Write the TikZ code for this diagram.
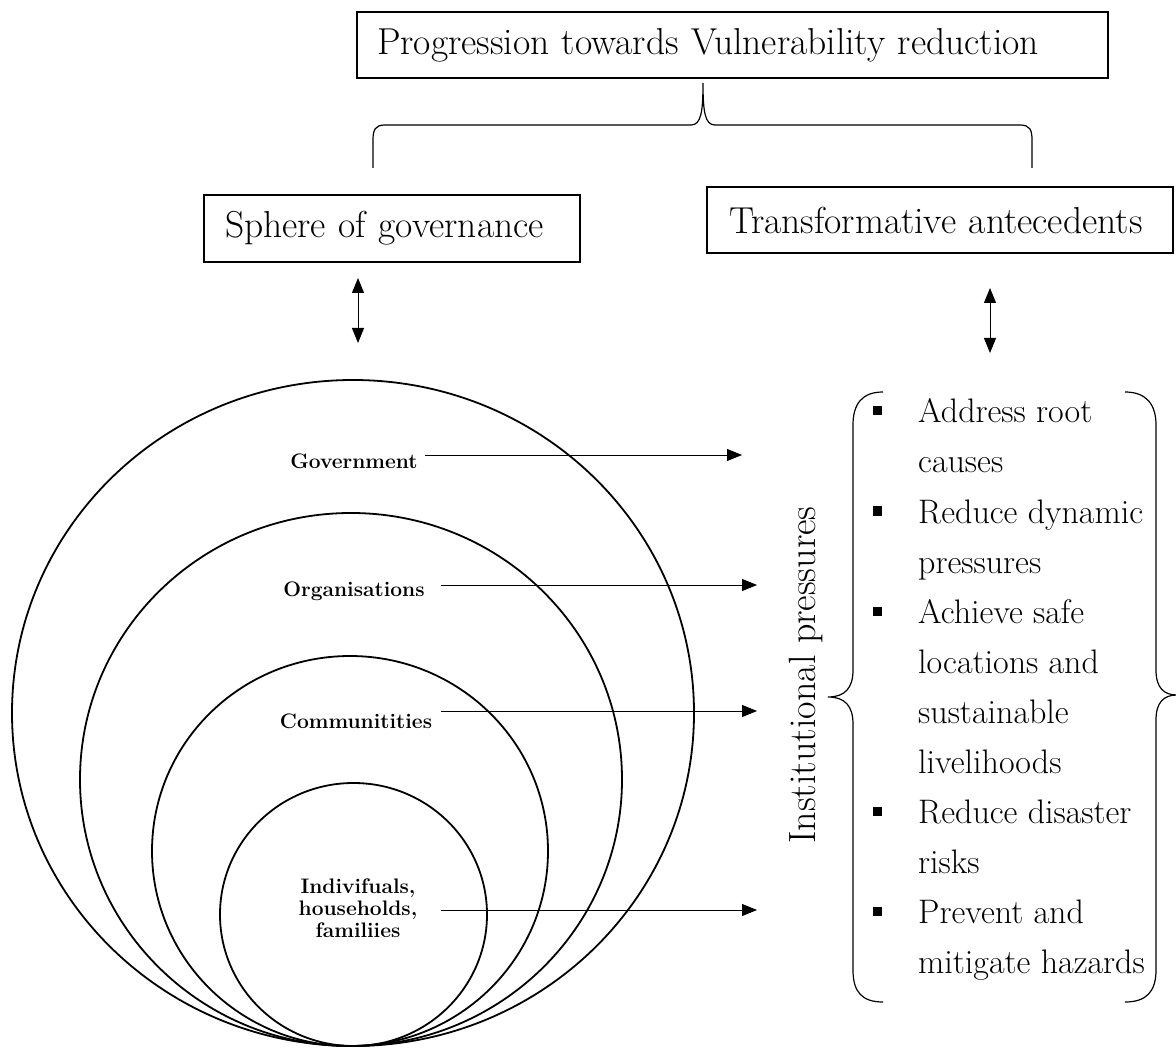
\documentclass[tikz,border=0pt]{standalone}
\usetikzlibrary{arrows.meta,shapes.geometric}
\begin{document}
\begin{tikzpicture}[x=1pt,y=-1pt,
  heading/.style={draw, line width=1.1pt, rectangle, inner ysep=0pt, align=left,
                  font=\fontsize{37.5}{42}\selectfont},
  ring/.style={draw, ellipse, line width=1.8pt, inner sep=0pt},
  level/.style={font=\bfseries\fontsize{21}{22}\selectfont, align=center, inner sep=0pt},
  feed/.style={-{Triangle[length=15pt,width=12pt]}, line width=0.9pt},
  link/.style={{Triangle[length=15pt,width=12pt]}-{Triangle[length=15pt,width=12pt]}, line width=1pt},
  brace/.style={line width=1.2pt},
  item/.style={anchor=base west, inner sep=0pt, font=\fontsize{34}{50}\selectfont},
  bulletsq/.style={fill, minimum size=9pt, inner sep=0pt}]
\useasboundingbox (0,0) rectangle (1176,1048);

% headings
\node[heading, text width=711pt, inner xsep=20pt, minimum height=66pt] (title) at (732.5,45)
  {Progression towards Vulnerability reduction};
\node[heading, text width=334pt, inner xsep=21pt, minimum height=67pt] (sphere) at (392,228.5)
  {Sphere of governance};
\node[heading, text width=422pt, inner xsep=22pt, minimum height=66pt] (trans) at (940,220)
  {Transformative antecedents};

% brace under the title
\draw[brace] (373,168) -- (373,140) .. controls (373,130) and (375,125) .. (385,125)
  -- (691,125) .. controls (701,125) and (703,112) .. (703,83)
  .. controls (703,112) and (705,125) .. (715,125)
  -- (1020,125) .. controls (1030,125) and (1032,130) .. (1032,140) -- (1032,168);

% two-way links below the headings
\coordinate (sA) at (358,278);
\coordinate (sB) at (358,343);
\coordinate (tA) at (990,288);
\coordinate (tB) at (990,353);
\draw[link] (sA) -- (sB);
\draw[link] (tA) -- (tB);

% nested spheres, all touching at the bottom
\node[ring, minimum width=682pt, minimum height=666pt] (ringGov) at (353,713) {};
\node[ring, minimum width=542pt, minimum height=533pt] (ringOrg) at (351,779.5) {};
\node[ring, minimum width=396pt, minimum height=390pt] (ringCom) at (350,851) {};
\node[ring, minimum width=267pt, minimum height=263pt] (ringInd) at (353.5,914.5) {};

% sphere labels
\node[level] (lblGov) at (354,461) {Government};
\node[level] (lblOrg) at (354,591) {Organisations};
\node[level] (lblCom) at (356,721) {Communitities};
\node[level] (lblInd) at (358,908) {Indivifuals,\\households,\\familiies};

% arrows towards the pressures
\coordinate (gA) at (425,455); \coordinate (gB) at (742,455);
\coordinate (oA) at (441,585); \coordinate (oB) at (757,585);
\coordinate (cA) at (441,711); \coordinate (cB) at (757,711);
\coordinate (iA) at (441,910); \coordinate (iB) at (757,910);
\draw[feed] (gA) -- (gB);
\draw[feed] (oA) -- (oB);
\draw[feed] (cA) -- (cB);
\draw[feed] (iA) -- (iB);

% vertical caption
\node[rotate=90, font=\fontsize{38}{42}\selectfont, inner sep=0pt] (inst) at (806,675)
  {Institutional pressures};

% braces around the list
\draw[brace] (883,392) .. controls (862,392) and (853,404) .. (853,425) -- (853,670)
  .. controls (853,688) and (845,697) .. (828,697)
  .. controls (845,697) and (853,706) .. (853,724) -- (853,970)
  .. controls (853,992) and (862,1002) .. (883,1002);
\draw[brace] (1125,392) .. controls (1146,392) and (1156,404) .. (1156,425) -- (1156,670)
  .. controls (1156,688) and (1164,695) .. (1177,695)
  .. controls (1164,695) and (1156,702) .. (1156,720) -- (1156,970)
  .. controls (1156,992) and (1146,1002) .. (1125,1002);

% list of transformative actions
\foreach \t [count=\i] in {Address root, causes, Reduce dynamic, pressures, Achieve safe,
    locations and, sustainable, livelihoods, Reduce disaster, risks, Prevent and,
    mitigate hazards}
  \node[item] (line\i) at (918,373+50*\i) {\t};
\foreach \i in {1,3,5,9,11}
  \node[bulletsq] (dot\i) at (877,373+50*\i-12) {};
\end{tikzpicture}
\end{document}
